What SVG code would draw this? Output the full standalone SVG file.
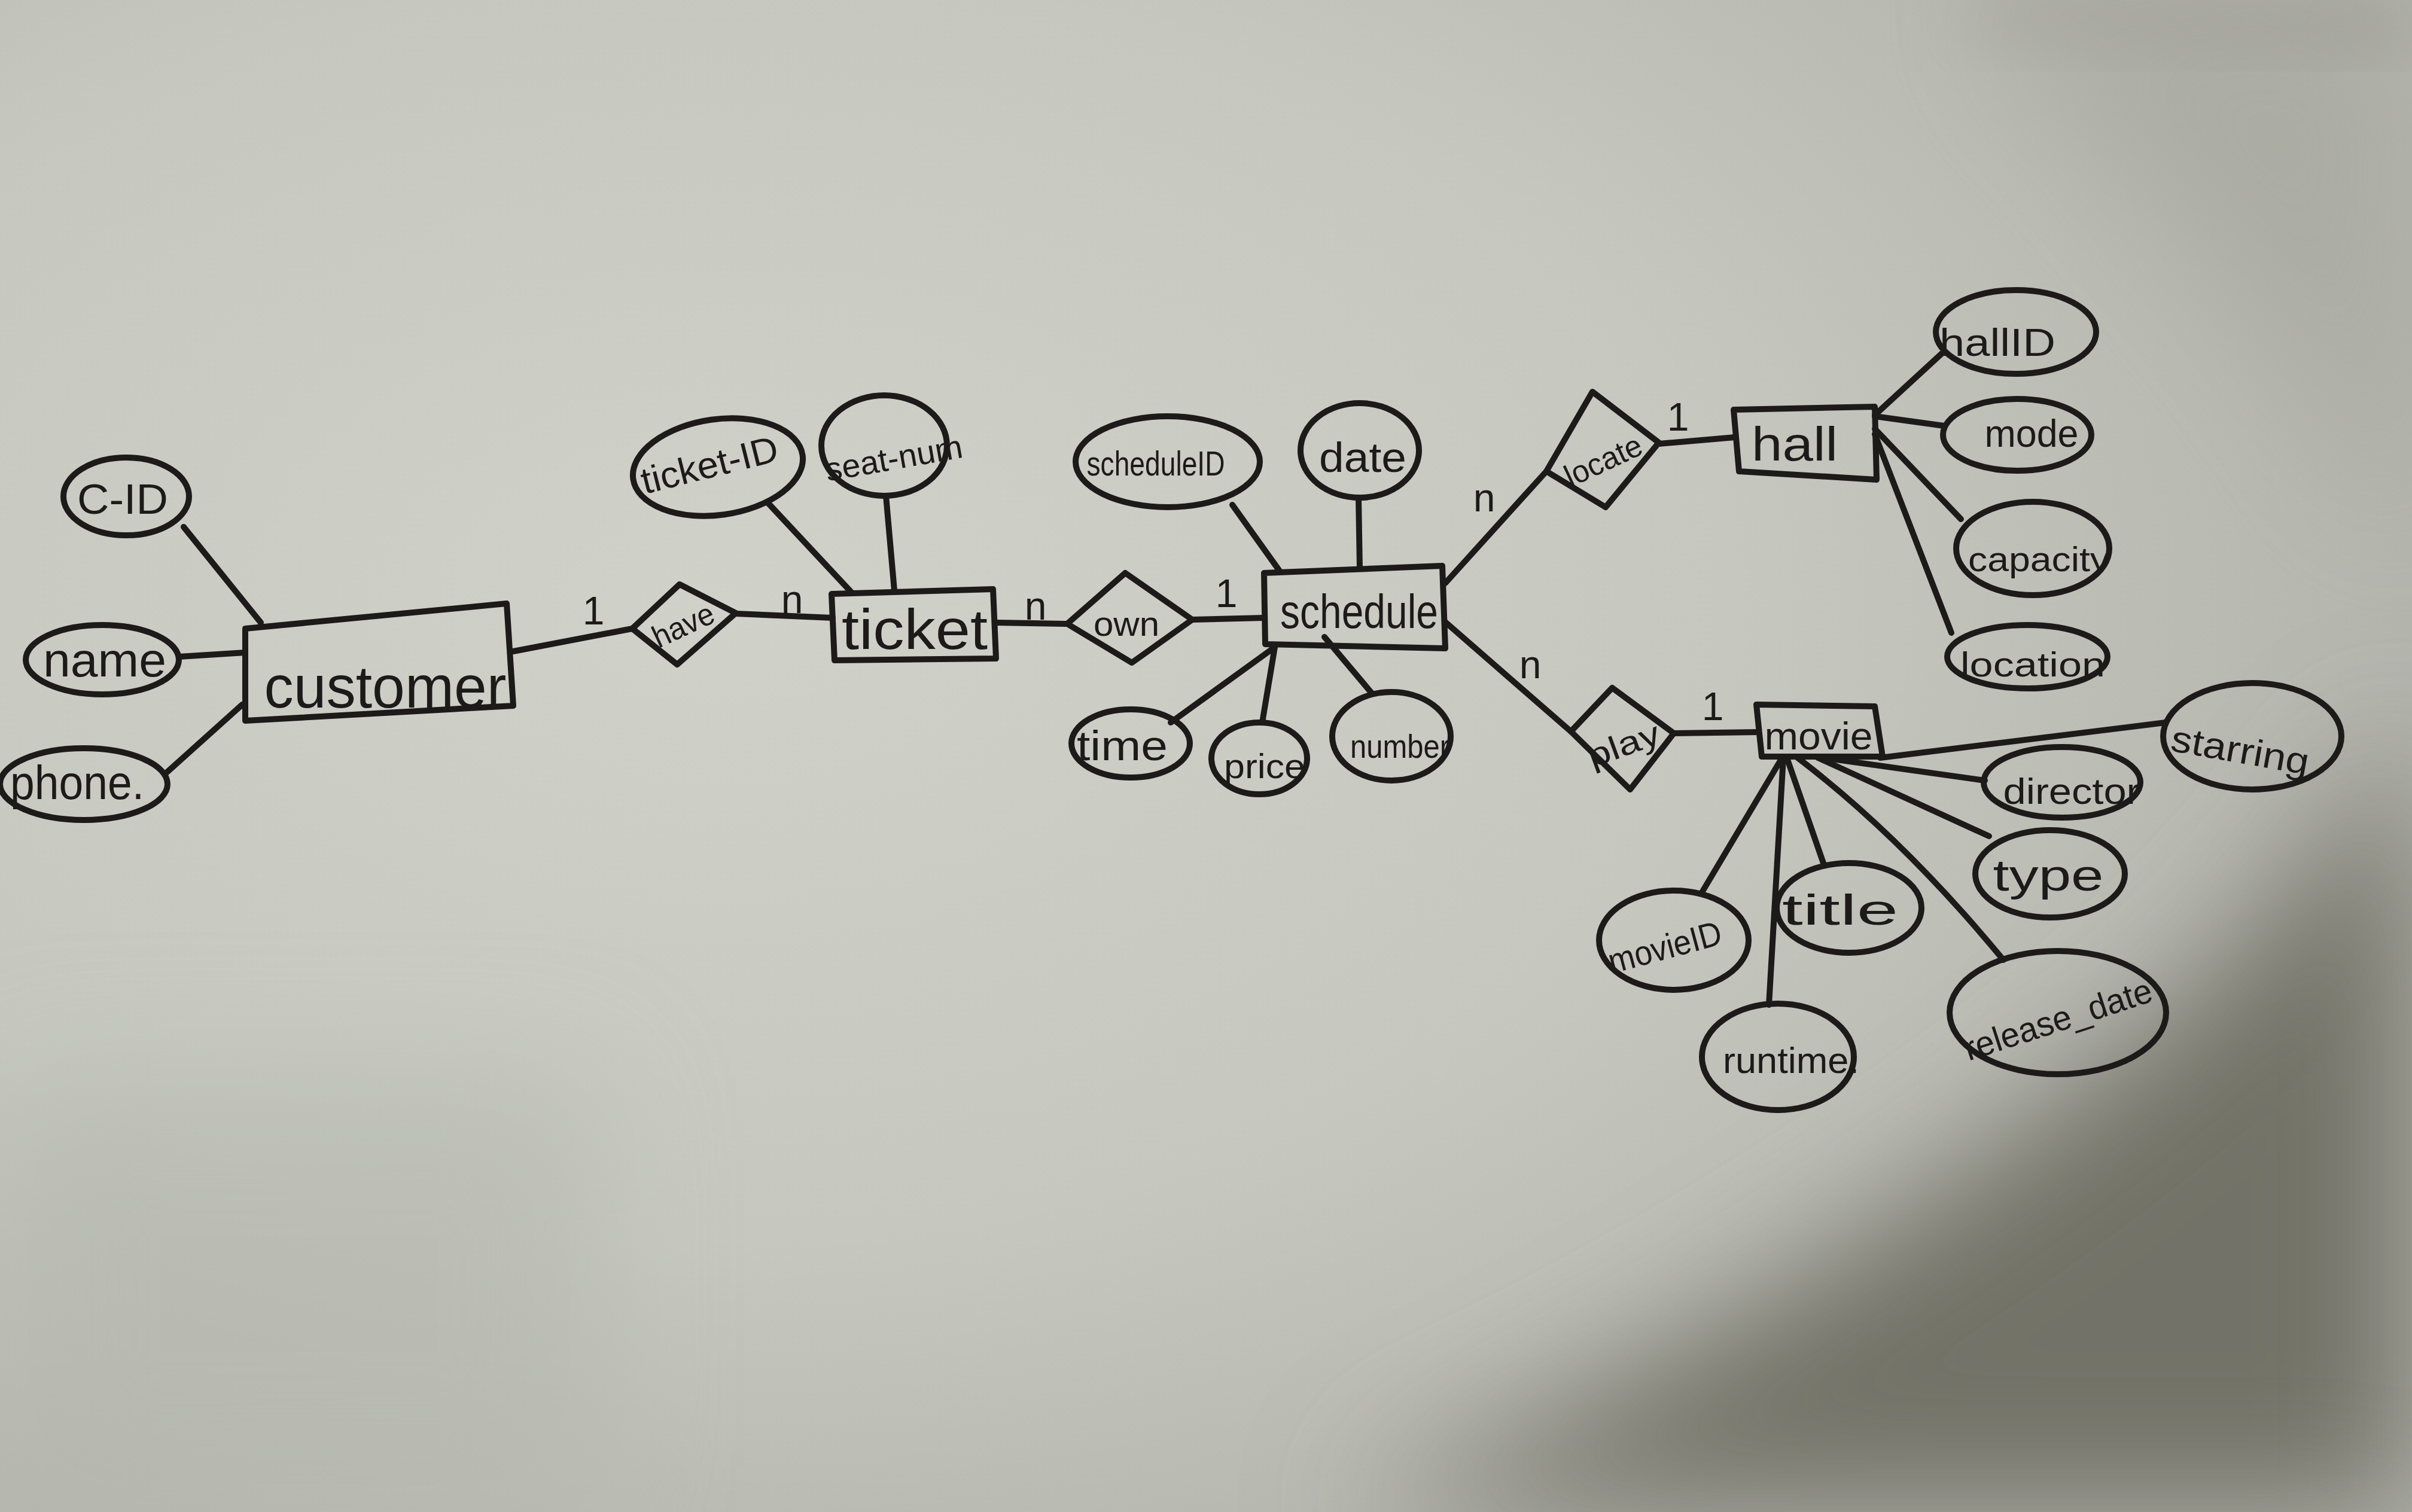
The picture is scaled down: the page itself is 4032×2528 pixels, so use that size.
<svg xmlns="http://www.w3.org/2000/svg" width="4032" height="2528" viewBox="0 0 4032 2528">
<defs>
<filter id="soft" x="-50%" y="-50%" width="200%" height="200%"><feGaussianBlur stdDeviation="110"/></filter>
<filter id="soft2" x="-50%" y="-50%" width="200%" height="200%"><feGaussianBlur stdDeviation="60"/></filter>
<radialGradient id="light" cx="0.3" cy="0.4" r="0.7">
<stop offset="0" stop-color="#d0d2c9"/>
<stop offset="0.6" stop-color="#c6c8bf"/>
<stop offset="1" stop-color="#b4b5ad"/>
</radialGradient>
<style>
.ink{fill:none;stroke:#1d1a1a;stroke-width:10;stroke-linejoin:round;stroke-linecap:round}
.t{font-family:"Liberation Sans","DejaVu Sans",sans-serif;fill:#1d1a1a;text-anchor:middle;dominant-baseline:central}
.c{font-family:"Liberation Sans","DejaVu Sans",sans-serif;fill:#1d1a1a;text-anchor:middle;dominant-baseline:central;font-size:66px}
</style>
</defs>
<g id="paper">
<rect width="4032" height="2528" fill="url(#light)"/>
<path d="M3300 0 L4032 0 L4032 900 C3900 700 3700 400 3300 0 Z" fill="#a9aaa1" filter="url(#soft)" opacity="0.8"/>
<path d="M3300 0 L4032 0 L4032 80 L3300 40 Z" fill="#9d9d94" filter="url(#soft2)"/>
<path d="M2250 2528 C2800 2300 3250 2000 3550 1760 C3800 1560 3950 1350 4032 1200 L4032 2528 Z" fill="#727268" filter="url(#soft)"/>
<rect x="0" y="1800" width="1000" height="728" fill="#b3b5ad" opacity="0.5" filter="url(#soft)"/>
</g>

<g id="connectors" class="ink">
<line x1="307" y1="881" x2="436" y2="1041"/>
<line x1="299" y1="1098" x2="410" y2="1091"/>
<line x1="277" y1="1293" x2="405" y2="1178"/>
<line x1="858" y1="1089" x2="1057" y2="1051"/>
<line x1="1230" y1="1026" x2="1392" y2="1033"/>
<line x1="1282" y1="839" x2="1423" y2="990"/>
<line x1="1481" y1="829" x2="1495" y2="987"/>
<line x1="1665" y1="1041" x2="1784" y2="1043"/>
<line x1="1993" y1="1036" x2="2113" y2="1033"/>
<line x1="2060" y1="844" x2="2140" y2="956"/>
<line x1="2271" y1="832" x2="2273" y2="950"/>
<line x1="2131" y1="1082" x2="1957" y2="1208"/>
<line x1="2131" y1="1082" x2="2110" y2="1208"/>
<line x1="2214" y1="1065" x2="2294" y2="1160"/>
<line x1="2416" y1="975" x2="2585" y2="788"/>
<line x1="2416" y1="1040" x2="2626" y2="1223"/>
<line x1="2773" y1="742" x2="2901" y2="731"/>
<line x1="3134" y1="694" x2="3246" y2="591"/>
<line x1="3134" y1="696" x2="3250" y2="712"/>
<line x1="3134" y1="717" x2="3278" y2="868"/>
<line x1="3134" y1="726" x2="3262" y2="1058"/>
<line x1="2798" y1="1226" x2="2940" y2="1224"/>
<line x1="3143" y1="1267" x2="3620" y2="1208"/>
<line x1="3048" y1="1267" x2="3318" y2="1305"/>
<line x1="3039" y1="1267" x2="3325" y2="1398"/>
<path d="M3005 1267 Q3180 1400 3349 1605"/>
<line x1="2987" y1="1267" x2="3048" y2="1443"/>
<line x1="2981" y1="1267" x2="2957" y2="1680"/>
<line x1="2979" y1="1267" x2="2845" y2="1492"/>
</g>

<g id="cardinalities">
<text class="c" x="992" y="1021">1</text>
<text class="c" x="1324" y="1002">n</text>
<text class="c" x="1731" y="1013">n</text>
<text class="c" x="2050" y="992">1</text>
<text class="c" x="2481" y="832">n</text>
<text class="c" x="2805" y="697">1</text>
<text class="c" x="2558" y="1111">n</text>
<text class="c" x="2863" y="1181">1</text>
</g>

<g id="customer"><polygon class="ink" points="410,1051 847,1009 858,1180 410,1205"/><text class="t" x="644" y="1148" font-size="100" textLength="405" lengthAdjust="spacingAndGlyphs">customer</text></g>
<g id="ticket"><polygon class="ink" points="1390,993 1660,985 1665,1101 1395,1104"/><text class="t" x="1529" y="1052" font-size="95" textLength="244" lengthAdjust="spacingAndGlyphs">ticket</text></g>
<g id="schedule"><polygon class="ink" points="2113,958 2411,946 2416,1084 2115,1077"/><text class="t" x="2272" y="1022" font-size="80" textLength="264" lengthAdjust="spacingAndGlyphs">schedule</text></g>
<g id="hall"><polygon class="ink" points="2898,685 3134,680 3137,802 2907,788"/><text class="t" x="3000" y="742" font-size="80" textLength="144" lengthAdjust="spacingAndGlyphs">hall</text></g>
<g id="movie"><polygon class="ink" points="2936,1178 3134,1181 3147,1265 2945,1265"/><text class="t" x="3040" y="1230" font-size="65" textLength="181" lengthAdjust="spacingAndGlyphs">movie</text></g>

<g id="have"><polygon class="ink" points="1057,1051 1136,977 1230,1025 1132,1111"/><text class="t" x="1142" y="1045" font-size="52" textLength="108" lengthAdjust="spacingAndGlyphs" transform="rotate(-25 1142 1045)">have</text></g>
<g id="own"><polygon class="ink" points="1784,1043 1881,958 1993,1036 1892,1108"/><text class="t" x="1883" y="1042" font-size="58" textLength="110" lengthAdjust="spacingAndGlyphs">own</text></g>
<g id="locate"><polygon class="ink" points="2662,655 2773,740 2684,848 2585,788"/><text class="t" x="2680" y="770" font-size="52" textLength="137" lengthAdjust="spacingAndGlyphs" transform="rotate(-25 2680 770)">locate</text></g>
<g id="play"><polygon class="ink" points="2695,1150 2798,1226 2725,1320 2626,1223"/><text class="t" x="2714" y="1245" font-size="55" textLength="125" lengthAdjust="spacingAndGlyphs" transform="rotate(-20 2714 1245)">play</text></g>

<g id="c-id"><ellipse class="ink" cx="211" cy="830" rx="105" ry="65"/><text class="t" x="205" y="835" font-size="70" textLength="152" lengthAdjust="spacingAndGlyphs">C-ID</text></g>
<g id="name"><ellipse class="ink" cx="171" cy="1103" rx="128" ry="58"/><text class="t" x="175" y="1103" font-size="80" textLength="206" lengthAdjust="spacingAndGlyphs">name</text></g>
<g id="phone"><ellipse class="ink" cx="140" cy="1311" rx="140" ry="60"/><text class="t" x="129" y="1308" font-size="80" textLength="224" lengthAdjust="spacingAndGlyphs">phone.</text></g>
<g id="ticket-id"><ellipse class="ink" cx="1200" cy="781" rx="143" ry="80" transform="rotate(-8 1200 781)"/><text class="t" x="1186" y="777" font-size="62" textLength="234" lengthAdjust="spacingAndGlyphs" transform="rotate(-14 1186 777)">ticket-ID</text></g>
<g id="seat-num"><ellipse class="ink" cx="1478" cy="745" rx="105" ry="84"/><text class="t" x="1494" y="766" font-size="55" textLength="232" lengthAdjust="spacingAndGlyphs" transform="rotate(-10 1494 766)">seat-num</text></g>
<g id="scheduleid"><ellipse class="ink" cx="1952" cy="772" rx="154" ry="76"/><text class="t" x="1932" y="774" font-size="58" textLength="231" lengthAdjust="spacingAndGlyphs">scheduleID</text></g>
<g id="date"><ellipse class="ink" cx="2273" cy="753" rx="99" ry="79"/><text class="t" x="2278" y="765" font-size="70" textLength="146" lengthAdjust="spacingAndGlyphs">date</text></g>
<g id="time"><ellipse class="ink" cx="1890" cy="1243" rx="99" ry="57"/><text class="t" x="1876" y="1247" font-size="70" textLength="152" lengthAdjust="spacingAndGlyphs">time</text></g>
<g id="price"><ellipse class="ink" cx="2105" cy="1268" rx="80" ry="60"/><text class="t" x="2114" y="1280" font-size="58" textLength="136" lengthAdjust="spacingAndGlyphs">price</text></g>
<g id="number"><ellipse class="ink" cx="2326" cy="1231" rx="99" ry="74"/><text class="t" x="2340" y="1248" font-size="55" textLength="166" lengthAdjust="spacingAndGlyphs">number</text></g>
<g id="hallid"><ellipse class="ink" cx="3370" cy="555" rx="134" ry="70"/><text class="t" x="3339" y="572" font-size="65" textLength="194" lengthAdjust="spacingAndGlyphs">hallID</text></g>
<g id="mode"><ellipse class="ink" cx="3372" cy="727" rx="124" ry="60"/><text class="t" x="3396" y="724" font-size="65" textLength="157" lengthAdjust="spacingAndGlyphs">mode</text></g>
<g id="capacity"><ellipse class="ink" cx="3398" cy="917" rx="128" ry="78"/><text class="t" x="3408" y="934" font-size="58" textLength="236" lengthAdjust="spacingAndGlyphs">capacity</text></g>
<g id="location"><ellipse class="ink" cx="3389" cy="1098" rx="134" ry="53"/><text class="t" x="3398" y="1110" font-size="58" textLength="242" lengthAdjust="spacingAndGlyphs">location</text></g>
<g id="starring"><ellipse class="ink" cx="3765" cy="1231" rx="149" ry="89"/><text class="t" x="3745" y="1254" font-size="62" textLength="233" lengthAdjust="spacingAndGlyphs" transform="rotate(10 3745 1254)">starring</text></g>
<g id="director"><ellipse class="ink" cx="3447" cy="1308" rx="131" ry="59"/><text class="t" x="3463" y="1322" font-size="62" textLength="229" lengthAdjust="spacingAndGlyphs">director</text></g>
<g id="type"><ellipse class="ink" cx="3427" cy="1461" rx="125" ry="73"/><text class="t" x="3424" y="1463" font-size="74" textLength="185" lengthAdjust="spacingAndGlyphs">type</text></g>
<g id="title"><ellipse class="ink" cx="3091" cy="1518" rx="121" ry="75"/><text class="t" x="3076" y="1521" font-size="72" textLength="194" lengthAdjust="spacingAndGlyphs">title</text></g>
<g id="movieid"><ellipse class="ink" cx="2798" cy="1572" rx="125" ry="83"/><text class="t" x="2783" y="1583" font-size="58" textLength="194" lengthAdjust="spacingAndGlyphs" transform="rotate(-15 2783 1583)">movieID</text></g>
<g id="runtime"><ellipse class="ink" cx="2972" cy="1767" rx="127" ry="89"/><text class="t" x="2994" y="1772" font-size="62" textLength="228" lengthAdjust="spacingAndGlyphs">runtime.</text></g>
<g id="release-date"><ellipse class="ink" cx="3440" cy="1693" rx="181" ry="103"/><text class="t" x="3440" y="1704" font-size="58" textLength="327" lengthAdjust="spacingAndGlyphs" transform="rotate(-18 3440 1704)">release_date</text></g>
</svg>
